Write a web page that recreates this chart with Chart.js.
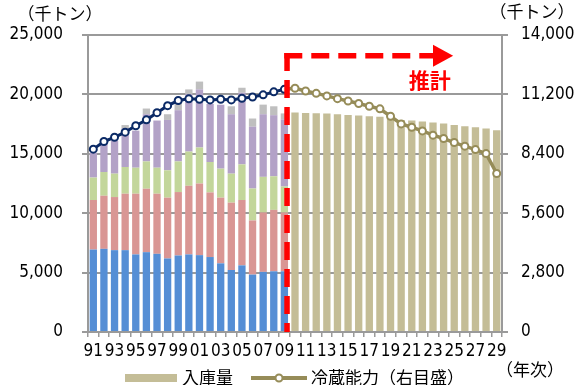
<!DOCTYPE html>
<html>
<head>
<meta charset="utf-8">
<script src="https://cdn.jsdelivr.net/npm/chart.js@4/dist/chart.umd.min.js"></script>
<style>
  html, body { margin: 0; padding: 0; background: #fff; }
  #wrap { width: 574px; height: 385px; }
</style>
</head>
<body>
<div id="wrap"><canvas id="c" width="574" height="385"></canvas></div>
<script>
// Year labels 1991–2029 (two-digit)
const years = ['91','92','93','94','95','96','97','98','99','00','01','02','03','04','05','06','07','08','09',
               '10','11','12','13','14','15','16','17','18','19','20','21','22','23','24','25','26','27','28','29'];

// 1991–2009 stock by segment (thousand tonnes), stacked bottom to top
const segBlue   = [6940,7000,6890,6890,6530,6720,6580,6190,6440,6530,6470,6310,5780,5220,5610,4830,5060,5110,5110];
const segRed    = [4170,4470,4470,4750,5110,5340,5060,5120,5340,5780,6030,5440,5530,5670,5500,4560,5000,5170,4950];
const segGreen  = [1890,2000,1970,2250,2190,2300,2190,2300,2580,2880,3030,2560,2440,2440,3000,2690,3000,2830,2190];
const segPurple = [2100,2380,2770,3250,3120,3970,3970,4240,4310,4830,4890,4890,5380,5000,6030,5200,5270,5140,5650];
const segGray   = [0,0,0,280,0,480,0,480,630,400,660,0,0,670,420,690,810,750,500];

// 2010–2029 projected 入庫量 (thousand tonnes)
const stockForecast = [18470,18440,18410,18390,18330,18270,18220,18160,18110,17970,
                       17850,17800,17710,17630,17540,17430,17320,17240,17120,16980];

// 冷蔵能力 on the right axis (thousand tonnes)
const capacityActual = [8620,8980,9180,9420,9720,10000,10340,10670,10910,10990,
                        10970,10940,10970,10940,11020,11080,11180,11320,11440];
const capacityForecast = [11490,11360,11250,11130,11000,10890,10770,10640,10520,10170,
                          9810,9650,9480,9280,9120,8930,8760,8600,8410,7470];

// Axis tick values
const leftTicks  = [0, 5000, 10000, 15000, 20000, 25000];
const rightTicks = [0, 2800, 5600, 8400, 11200, 14000];

const nActual = segBlue.length;
const nForecast = stockForecast.length;
const padEnd = arr => arr.concat(Array(nForecast).fill(null));
const padStart = arr => Array(nActual).fill(null).concat(arr);

const NUM_FONT = "'Liberation Sans Narrow', 'DejaVu Sans Condensed', 'Noto Sans CJK JP', sans-serif";
const JP_FONT = "'Noto Sans CJK JP', sans-serif";
const GRID = '#9a9a9a';
const NAVY = '#0b2a66';
const OLIVE = '#968c58';
const TAN = '#c4bd97';
const fmt = v => Number(v).toLocaleString('en-US');

Chart.defaults.font.family = NUM_FONT;
Chart.defaults.color = '#000';

const barCommon = { stack: 's', order: 1, borderWidth: 0, barPercentage: 0.69, categoryPercentage: 1.0, yAxisID: 'y' };

// Forecast annotation, units and legend
const decor = {
  id: 'decor',
  afterDraw(chart) {
    const { ctx, scales: { x, y } } = chart;
    const vx = x.getPixelForValue(18.25);
    const hy = y.getPixelForValue(23250);
    const by = y.getPixelForValue(0);
    const headBase = x.getPixelForValue(32.0);
    const tip = x.getPixelForValue(33.9);

    ctx.save();
    ctx.strokeStyle = '#ff0000';
    ctx.fillStyle = '#ff0000';
    ctx.lineWidth = 5.5;
    ctx.setLineDash([18, 9]);
    ctx.beginPath();
    ctx.moveTo(vx, hy - 2.75);
    ctx.lineTo(vx, by);
    ctx.stroke();
    ctx.beginPath();
    ctx.moveTo(vx - 2.75, hy);
    ctx.lineTo(headBase, hy);
    ctx.stroke();
    ctx.setLineDash([]);
    ctx.beginPath();
    ctx.moveTo(headBase, hy - 11);
    ctx.lineTo(tip, hy);
    ctx.lineTo(headBase, hy + 11);
    ctx.closePath();
    ctx.fill();

    ctx.font = "bold 21px " + JP_FONT;
    ctx.textAlign = 'center';
    ctx.textBaseline = 'middle';
    ctx.fillText('推計', x.getPixelForValue(31.7), y.getPixelForValue(21200));
    ctx.restore();

    ctx.save();
    ctx.fillStyle = '#000';
    ctx.font = "17px " + JP_FONT;
    ctx.textAlign = 'center';
    ctx.textBaseline = 'middle';
    ctx.fillText('（千トン）', 60, 14);
    ctx.fillText('（千トン）', 532, 12);
    ctx.fillText('（年次）', 530, 370);

    // legend
    const ly = 378;
    ctx.fillStyle = TAN;
    ctx.fillRect(125, ly - 4, 52, 8);
    ctx.fillStyle = '#000';
    ctx.textAlign = 'left';
    ctx.fillText('入庫量', 182, ly);
    ctx.strokeStyle = OLIVE;
    ctx.lineWidth = 4;
    ctx.beginPath();
    ctx.moveTo(251, ly);
    ctx.lineTo(307, ly);
    ctx.stroke();
    ctx.beginPath();
    ctx.arc(279, ly, 3.5, 0, Math.PI * 2);
    ctx.fillStyle = '#fff';
    ctx.fill();
    ctx.lineWidth = 2;
    ctx.stroke();
    ctx.fillStyle = '#000';
    ctx.fillText('冷蔵能力（右目盛）', 311, ly);
    ctx.restore();
  }
};

new Chart(document.getElementById('c'), {
  data: {
    labels: years,
    datasets: [
      { type: 'line', label: '冷蔵能力', data: padEnd(capacityActual), yAxisID: 'y1', order: 0,
        borderColor: NAVY, borderWidth: 3, pointRadius: 3.5, pointBorderWidth: 2,
        pointBackgroundColor: '#fff', pointBorderColor: NAVY, tension: 0 },
      { type: 'line', label: '冷蔵能力（推計）',
        data: Array(nActual - 1).fill(null).concat([capacityActual[nActual - 1]], capacityForecast),
        yAxisID: 'y1', order: 0,
        borderColor: OLIVE, borderWidth: 3.5,
        pointRadius: c => (c.dataIndex === nActual - 1 ? 0 : 3.5), pointBorderWidth: 2,
        pointBackgroundColor: '#fff', pointBorderColor: OLIVE, tension: 0 },
      { type: 'bar', label: 'A', data: padEnd(segBlue),   backgroundColor: '#558ed5', ...barCommon },
      { type: 'bar', label: 'B', data: padEnd(segRed),    backgroundColor: '#d99694', ...barCommon },
      { type: 'bar', label: 'C', data: padEnd(segGreen),  backgroundColor: '#c3d69b', ...barCommon },
      { type: 'bar', label: 'D', data: padEnd(segPurple), backgroundColor: '#b3a2c7', ...barCommon },
      { type: 'bar', label: 'E', data: padEnd(segGray),   backgroundColor: '#bfbfbf', ...barCommon },
      { type: 'bar', label: '入庫量', data: padStart(stockForecast), backgroundColor: TAN, ...barCommon }
    ]
  },
  options: {
    responsive: false,
    animation: false,
    layout: { padding: { top: 35, bottom: 0, left: 0, right: 0 } },
    plugins: { legend: { display: false }, tooltip: { enabled: false } },
    scales: {
      x: {
        stacked: true,
        offset: true,
        grid: { display: true, offset: true, drawOnChartArea: false, drawTicks: true, tickLength: 5, color: GRID, lineWidth: 1.5 },
        border: { display: true, color: GRID, width: 2 },
        ticks: { autoSkip: false, maxRotation: 0, minRotation: 0, padding: 4, font: { size: 17 },
                 callback: (v, i) => (i % 2 === 0 ? years[i] : '') },
        afterFit: s => { s.height = 53; }
      },
      y: {
        stacked: true,
        position: 'left',
        min: 0, max: 25000,
        afterBuildTicks: s => { s.ticks = leftTicks.map(v => ({ value: v })); },
        grid: { color: GRID, lineWidth: 2, tickLength: 6, drawTicks: true },
        border: { display: true, color: GRID, width: 2 },
        ticks: { padding: 19, font: { size: 17 }, callback: v => fmt(v) },
        afterFit: s => { s.width = 88; }
      },
      y1: {
        position: 'right',
        min: 0, max: 14000,
        afterBuildTicks: s => { s.ticks = rightTicks.map(v => ({ value: v })); },
        grid: { drawOnChartArea: false, color: GRID, lineWidth: 2, tickLength: 6, drawTicks: true },
        border: { display: true, color: GRID, width: 2 },
        ticks: { padding: 13, font: { size: 17 }, callback: v => fmt(v) },
        afterFit: s => { s.width = 72; }
      }
    }
  },
  plugins: [decor]
});
</script>
</body>
</html>
